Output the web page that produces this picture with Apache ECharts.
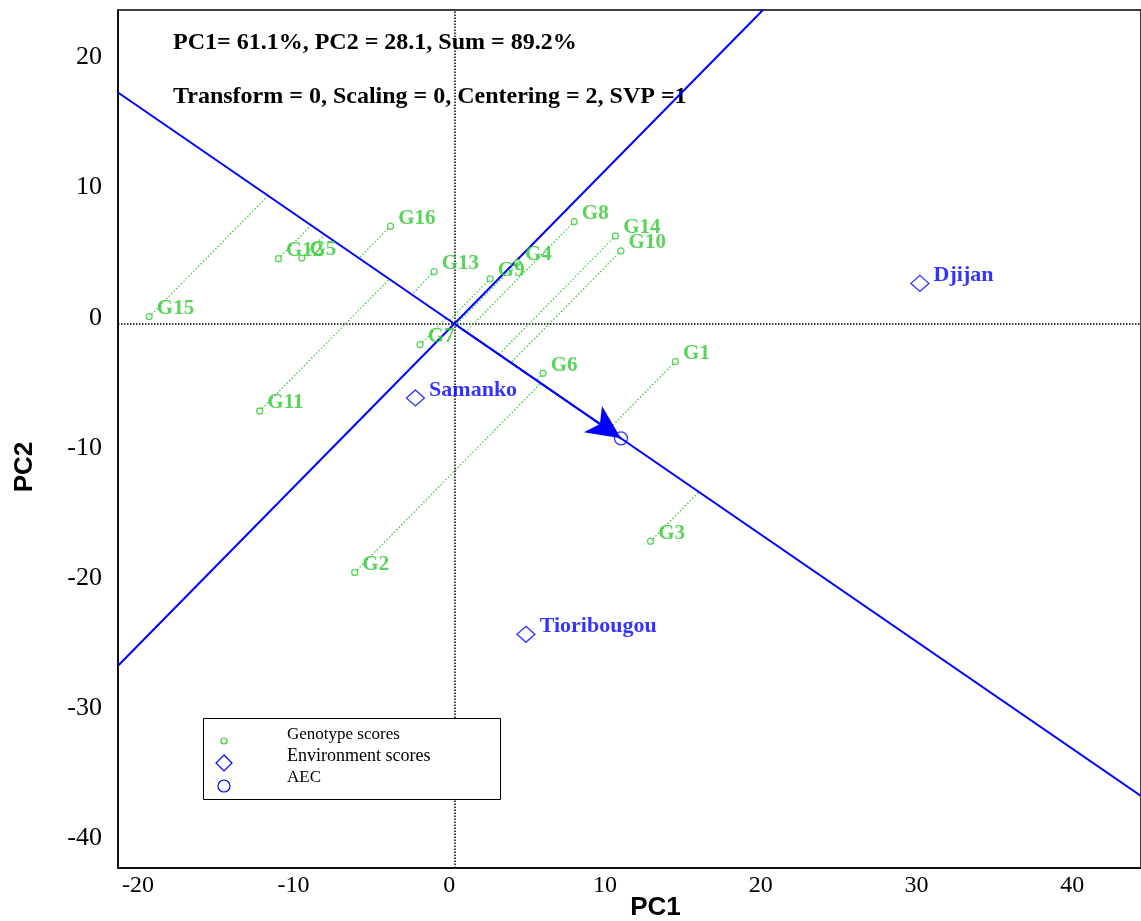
<!DOCTYPE html>
<html>
<head>
<meta charset="utf-8">
<script src="https://cdn.jsdelivr.net/npm/echarts@6/dist/echarts.min.js"></script>
<style>
html, body { margin: 0; padding: 0; background: #fff; }
#chart { width: 1141px; height: 921px; }
</style>
</head>
<body>
<div id="chart"></div>
<script>
// genotype scores (PC1, PC2)
var genoNames = ['G1', 'G2', 'G3', 'G4', 'G5', 'G6', 'G7', 'G8', 'G9', 'G10', 'G11', 'G12', 'G13', 'G14', 'G15', 'G16'];
var genoPC1 = [14.2, -6.4, 12.6, 4.05, -9.8, 5.7, -2.2, 7.7, 2.3, 10.7, -12.5, -11.3, -1.3, 10.35, -19.6, -4.1];
var genoPC2 = [-2.9, -19.1, -16.7, 4.7, 5.05, -3.8, -1.6, 7.85, 3.45, 5.6, -6.7, 5.0, 4.0, 6.75, 0.55, 7.5];

// environment scores
var envNames = ['Djijan', 'Samanko', 'Tioribougou'];
var envPC1 = [29.9, -2.5, 4.6];
var envPC2 = [3.1, -5.7, -23.85];

// average environment coordinate
var aecPoint = [10.7, -8.8];

var xRange = [-21.6, 44.1];
var yRange = [-41.8, 24.1];

var GREEN = '#30c830';
var BLUE = '#0000ff';

// line through origin along (dx, dy), cut to the plot range
function spanThroughOrigin(dx, dy) {
    var lo = -Infinity, hi = Infinity;
    [[dx, xRange], [dy, yRange]].forEach(function (c) {
        if (c[0] === 0) return;
        var a = c[1][0] / c[0], b = c[1][1] / c[0];
        lo = Math.max(lo, Math.min(a, b));
        hi = Math.min(hi, Math.max(a, b));
    });
    return [[dx * lo, dy * lo], [dx * hi, dy * hi]];
}

var ax = aecPoint[0], ay = aecPoint[1];
var projData = genoNames.map(function (n, i) {
    var t = (genoPC1[i] * ax + genoPC2[i] * ay) / (ax * ax + ay * ay);
    return { coords: [[genoPC1[i], genoPC2[i]], [t * ax, t * ay]] };
});

var chart = echarts.init(document.getElementById('chart'));

var serif = 'Liberation Serif';

chart.setOption({
    backgroundColor: '#fff',
    animation: false,
    grid: {
        left: 118, right: 0, top: 10, bottom: 53,
        outerBoundsMode: 'none',
        containLabel: false,
        show: true, borderColor: '#000', borderWidth: 1.5
    },
    xAxis: {
        type: 'value',
        min: xRange[0], max: xRange[1],
        name: 'PC1', nameLocation: 'middle', nameGap: 27, nameMoveOverlap: false,
        nameTextStyle: { fontFamily: 'Liberation Sans', fontWeight: 'bold', fontSize: 26, color: '#000', padding: [0, 0, 0, 52] },
        axisLine: { show: true, onZero: false, lineStyle: { color: '#000', width: 1.5 } },
        axisTick: { show: false },
        splitLine: { show: false },
        axisLabel: {
            showMinLabel: false, showMaxLabel: false, margin: 6,
            formatter: function (v) { return '{t|' + v + '}'; },
            rich: { t: { fontFamily: serif, fontSize: 24, color: '#000', padding: [0, 10, 0, 0] } }
        }
    },
    yAxis: {
        type: 'value',
        min: yRange[0], max: yRange[1],
        name: 'PC2', nameLocation: 'middle', nameGap: 80, nameMoveOverlap: false,
        nameTextStyle: { fontFamily: 'Liberation Sans', fontWeight: 'bold', fontSize: 26, color: '#000', padding: [0, 56, 0, 0] },
        axisLine: { show: true, onZero: false, lineStyle: { color: '#000', width: 1.5 } },
        axisTick: { show: false },
        splitLine: { show: false },
        axisLabel: {
            showMinLabel: false, showMaxLabel: false, margin: 16,
            formatter: function (v) { return '{t|' + v + '}'; },
            rich: { t: { fontFamily: serif, fontSize: 26, color: '#000', padding: [0, 0, 12, 0] } }
        }
    },
    graphic: [
        { type: 'text', left: 173, top: 31, style: { text: 'PC1= 61.1%, PC2 = 28.1, Sum = 89.2%', font: 'bold 24px "Liberation Serif"', fill: '#000' } },
        { type: 'text', left: 173, top: 85, style: { text: 'Transform = 0, Scaling = 0, Centering = 2, SVP =1', font: 'bold 24px "Liberation Serif"', fill: '#000' } },
        // legend box
        { type: 'rect', shape: { x: 203.5, y: 718.5, width: 297, height: 81 }, style: { fill: '#fff', stroke: '#000', lineWidth: 1 }, z: 10 },
        { type: 'circle', shape: { cx: 224, cy: 741, r: 3 }, style: { fill: '#fff', stroke: GREEN, lineWidth: 1.2 }, z: 11 },
        { type: 'polygon', shape: { points: [[224, 755], [232, 763], [224, 771], [216, 763]] }, style: { fill: '#fff', stroke: BLUE, lineWidth: 1.2 }, z: 11 },
        { type: 'circle', shape: { cx: 224, cy: 786, r: 6 }, style: { fill: '#fff', stroke: BLUE, lineWidth: 1.2 }, z: 11 },
        { type: 'text', left: 287, top: 726, style: { text: 'Genotype scores', font: '17px "Liberation Serif"', fill: '#000' }, z: 11 },
        { type: 'text', left: 287, top: 747, style: { text: 'Environment scores', font: '18px "Liberation Serif"', fill: '#000' }, z: 11 },
        { type: 'text', left: 287, top: 769, style: { text: 'AEC', font: '17px "Liberation Serif"', fill: '#000' }, z: 11 }
    ],
    series: [
        {
            type: 'lines', coordinateSystem: 'cartesian2d', silent: true, symbol: 'none',
            lineStyle: { color: '#000', width: 1.5, type: [1.5, 1.5], opacity: 1 },
            data: [
                { coords: [[0, yRange[0]], [0, yRange[1]]] },
                { coords: [[xRange[0], 0], [xRange[1], 0]] }
            ]
        },
        {
            type: 'lines', coordinateSystem: 'cartesian2d', silent: true, symbol: 'none',
            lineStyle: { color: GREEN, width: 1.2, type: [1.5, 2], opacity: 1 },
            data: projData
        },
        {
            type: 'lines', coordinateSystem: 'cartesian2d', silent: true, symbol: 'none',
            lineStyle: { color: BLUE, width: 2, opacity: 1 },
            data: [
                { coords: spanThroughOrigin(ax, ay) },
                { coords: spanThroughOrigin(-ay, ax) }
            ]
        },
        {
            type: 'lines', coordinateSystem: 'cartesian2d', silent: true,
            symbol: ['none', 'arrow'], symbolSize: [1, [24, 34]],
            lineStyle: { color: BLUE, width: 2, opacity: 1 },
            itemStyle: { color: BLUE },
            data: [{ coords: [[0, 0], aecPoint] }]
        },
        {
            name: 'Genotype scores', type: 'scatter', symbol: 'circle', symbolSize: 6,
            itemStyle: { color: '#fff', borderColor: GREEN, borderWidth: 1.3 },
            label: {
                show: true, position: 'right', distance: 4, offset: [0, -8],
                formatter: function (p) { return p.data[2]; },
                fontFamily: serif, fontWeight: 700, fontSize: 21, color: GREEN
            },
            data: genoNames.map(function (n, i) { return [genoPC1[i], genoPC2[i], n]; })
        },
        {
            name: 'Environment scores', type: 'scatter', symbol: 'diamond', symbolSize: [18, 16],
            itemStyle: { color: '#fff', borderColor: BLUE, borderWidth: 1.3 },
            label: {
                show: true, position: 'right', distance: 4, offset: [0, -8],
                formatter: function (p) { return p.data[2]; },
                fontFamily: serif, fontWeight: 700, fontSize: 22, color: BLUE
            },
            data: envNames.map(function (n, i) { return [envPC1[i], envPC2[i], n]; })
        },
        {
            name: 'AEC', type: 'scatter', symbol: 'circle', symbolSize: 13,
            itemStyle: { color: 'rgba(255,255,255,0)', borderColor: BLUE, borderWidth: 1.3 },
            data: [aecPoint]
        }
    ]
});
</script>
</body>
</html>
